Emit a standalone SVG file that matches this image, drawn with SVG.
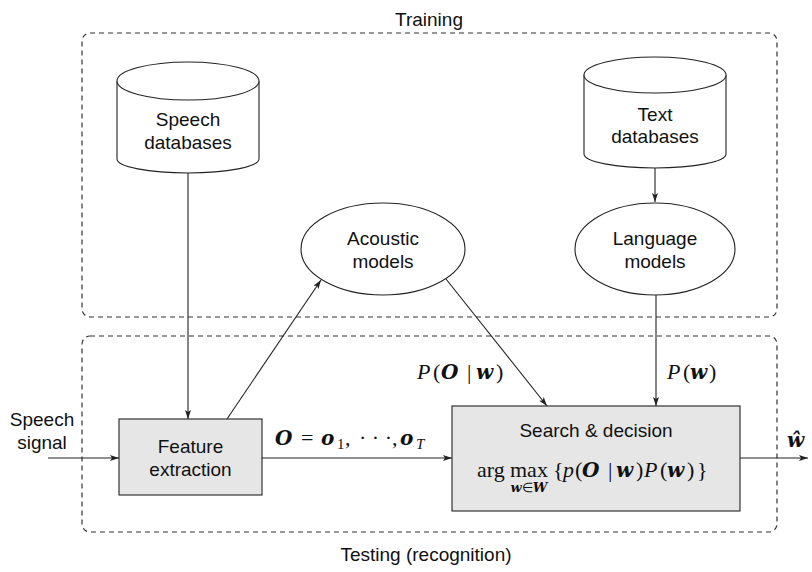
<svg xmlns="http://www.w3.org/2000/svg" width="812" height="572" viewBox="0 0 812 572">
  <style>
    .bg { fill: #ffffff; }
    .frame { fill: none; stroke: #333; stroke-width: 1.2; stroke-dasharray: 5 4; }
    .shape { fill: #ffffff; stroke: #222; stroke-width: 1.1; }
    .box { fill: #e6e6e6; stroke: #222; stroke-width: 1.1; }
    .edge { fill: none; stroke: #222; stroke-width: 1.1; }
    .lbl { font-family: "Liberation Sans", Arial, sans-serif; font-size: 19px; fill: #111; text-anchor: middle; }
    .math { font-family: "Liberation Serif", "Times New Roman", serif; font-size: 22px; fill: #111; }
    .bi { font-family: "DejaVu Serif", "Liberation Serif", serif; font-weight: bold; font-style: italic; font-size: 20px; }
    .it { font-style: italic; }
    .sub { font-size: 15px; }
    .lim { font-size: 13px; }
  </style>
  <defs>
    <marker id="arrow" viewBox="0 0 9 6" refX="9" refY="3" markerWidth="9" markerHeight="6" markerUnits="userSpaceOnUse" orient="auto">
      <path d="M0,0 L9,3 L0,6 L2,3 z" fill="#222"/>
    </marker>
  </defs>

  <rect class="bg" x="0" y="0" width="812" height="572"/>

  <!-- phase frames -->
  <g id="training">
    <rect class="frame" x="82" y="33" width="695" height="284" rx="8" ry="8"/>
    <text class="lbl" x="429" y="26">Training</text>
  </g>
  <g id="testing">
    <rect class="frame" x="82" y="336" width="695" height="196" rx="8" ry="8"/>
    <text class="lbl" x="426" y="561">Testing (recognition)</text>
  </g>

  <!-- connectors -->
  <g id="connectors">
    <line class="edge" x1="48" y1="458" x2="119" y2="458" marker-end="url(#arrow)"/>
    <line class="edge" x1="188" y1="173" x2="188" y2="419" marker-end="url(#arrow)"/>
    <line class="edge" x1="227" y1="419" x2="321" y2="280" marker-end="url(#arrow)"/>
    <line class="edge" x1="446" y1="279" x2="547" y2="406" marker-end="url(#arrow)"/>
    <line class="edge" x1="655" y1="168" x2="655" y2="202" marker-end="url(#arrow)"/>
    <line class="edge" x1="656" y1="295" x2="656" y2="406" marker-end="url(#arrow)"/>
    <line class="edge" x1="262" y1="458" x2="452" y2="458" marker-end="url(#arrow)"/>
    <line class="edge" x1="740" y1="458" x2="808" y2="458" marker-end="url(#arrow)"/>

    <!-- P(O | w) -->
    <text class="math" y="379">
      <tspan class="it" x="417">P</tspan><tspan x="433">(</tspan><tspan class="bi" x="441">O</tspan><tspan x="467">|</tspan><tspan class="bi" x="476">w</tspan><tspan x="496">)</tspan>
    </text>
    <!-- P(w) -->
    <text class="math" y="379">
      <tspan class="it" x="667">P</tspan><tspan x="683">(</tspan><tspan class="bi" x="690">w</tspan><tspan x="709">)</tspan>
    </text>
    <!-- O = o_1, ..., o_T -->
    <text class="math" y="445">
      <tspan class="bi" x="275">O</tspan><tspan x="301">=</tspan><tspan class="bi" x="321">o</tspan><tspan class="sub" x="337" y="449">1</tspan><tspan x="345" y="445">,</tspan><tspan x="359">· · ·</tspan><tspan x="392">,</tspan><tspan class="bi" x="400">o</tspan><tspan class="sub it" x="416" y="449">T</tspan>
    </text>
    <!-- w hat -->
    <text class="math bi" x="787" y="447">ŵ</text>
  </g>

  <!-- nodes -->
  <g id="speech-databases">
    <path class="shape" d="M117,81 L117,159 A71,14 0 0 0 259,159 L259,81"/>
    <ellipse class="shape" cx="188" cy="81" rx="71" ry="19"/>
    <text class="lbl" x="188" y="126">Speech</text>
    <text class="lbl" x="188" y="149">databases</text>
  </g>

  <g id="text-databases">
    <path class="shape" d="M584,75 L584,154 A71,14 0 0 0 726,154 L726,75"/>
    <ellipse class="shape" cx="655" cy="75" rx="71" ry="18"/>
    <text class="lbl" x="655" y="121">Text</text>
    <text class="lbl" x="655" y="143">databases</text>
  </g>

  <g id="acoustic-models">
    <ellipse class="shape" cx="383" cy="249" rx="82" ry="46"/>
    <text class="lbl" x="383" y="245">Acoustic</text>
    <text class="lbl" x="383" y="268">models</text>
  </g>

  <g id="language-models">
    <ellipse class="shape" cx="655" cy="249" rx="80" ry="46"/>
    <text class="lbl" x="655" y="245">Language</text>
    <text class="lbl" x="655" y="268">models</text>
  </g>

  <g id="speech-signal">
    <text class="lbl" x="42" y="426">Speech</text>
    <text class="lbl" x="42" y="449">signal</text>
  </g>

  <g id="feature-extraction">
    <rect class="box" x="119" y="419" width="143" height="76"/>
    <text class="lbl" x="190.5" y="453">Feature</text>
    <text class="lbl" x="190.5" y="476">extraction</text>
  </g>

  <g id="search-decision">
    <rect class="box" x="452" y="406" width="288" height="105"/>
    <text class="lbl" x="596" y="437">Search &amp; decision</text>
    <text class="math" y="477">
      <tspan x="477">arg</tspan><tspan x="510">max</tspan><tspan x="553">{</tspan><tspan class="it" x="563">p</tspan><tspan x="575">(</tspan><tspan class="bi" x="582">O</tspan><tspan x="608">|</tspan><tspan class="bi" x="616">w</tspan><tspan x="636">)</tspan><tspan class="it" x="644">P</tspan><tspan x="660">(</tspan><tspan class="bi" x="667">w</tspan><tspan x="687">)</tspan><tspan x="697">}</tspan>
    </text>
    <text class="math" x="529" y="492" text-anchor="middle"><tspan class="bi lim">w</tspan><tspan class="lim">∈</tspan><tspan class="bi lim">W</tspan></text>
  </g>
</svg>
